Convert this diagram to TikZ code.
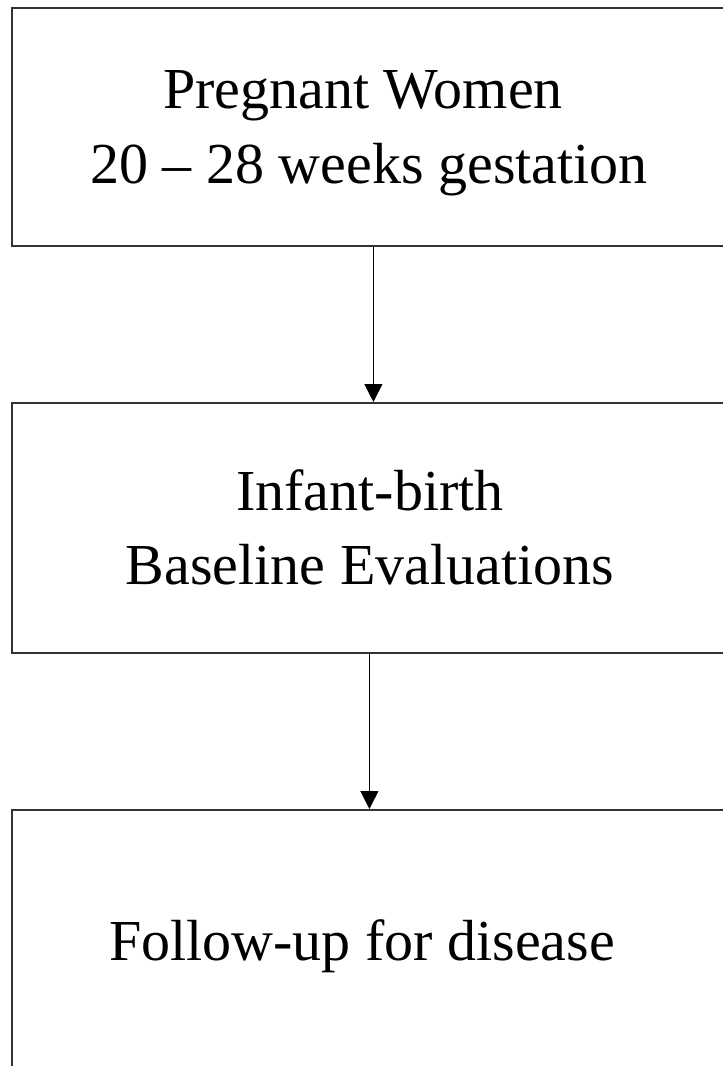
\documentclass[tikz,border=0pt]{standalone}
\usepackage{fontspec}
\setmainfont{Liberation Serif}
\usetikzlibrary{arrows.meta}
\begin{document}
\begin{tikzpicture}[x=1pt,y=-1pt,
  stagebox/.style={draw=black!80,line width=1.8pt,rectangle,inner sep=0pt,anchor=north west},
  stagetext/.style={inner sep=0pt,anchor=base,font=\fontsize{58}{70}\selectfont},
  flowarrow/.style={draw=black,line width=1.2pt,-{Triangle[length=18pt,width=18pt]}}]
\useasboundingbox (0,0) rectangle (723,1066);
\clip (0,0) rectangle (723,1066);
\fill[white] (0,0) rectangle (723,1066);
% boxes
\node[stagebox,minimum width=716pt,minimum height=238pt] (b1) at (11,7) {};
\node[stagebox,minimum width=716pt,minimum height=250pt] (b2) at (11,402) {};
\node[stagebox,minimum width=716pt,minimum height=300pt] (b3) at (11,809) {};
% texts
\node[stagetext] (t1a) at (363,108) {Pregnant Women};
\node[stagetext] (t1b) at (369,183) {20 – 28 weeks gestation};
\node[stagetext] (t2a) at (370,510) {Infant-birth};
\node[stagetext] (t2b) at (370,584) {Baseline Evaluations};
\node[stagetext] (t3) at (362,960) {Follow-up for disease};
% arrows
\draw[flowarrow] ([xshift=3.5pt]b1.south) -- ([xshift=3.5pt]b2.north);
\draw[flowarrow] ([xshift=-0.5pt]b2.south) -- ([xshift=-0.5pt]b3.north);
\end{tikzpicture}
\end{document}
